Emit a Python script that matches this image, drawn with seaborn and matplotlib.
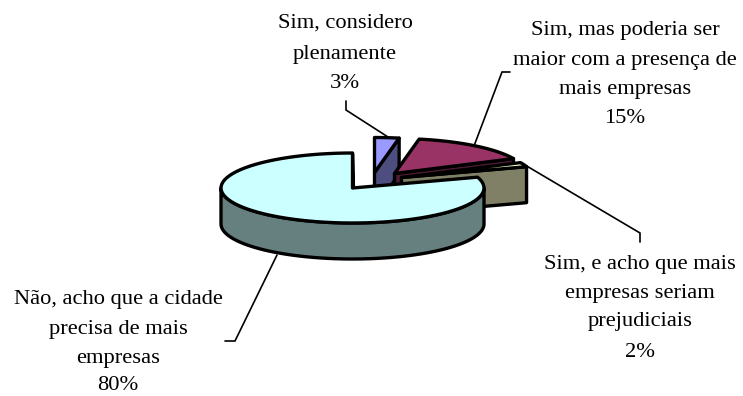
import numpy as np
import matplotlib
matplotlib.use("Agg")
import matplotlib.pyplot as plt
import seaborn as sns

categories = ["Sim, considero plenamente",
              "Sim, mas poderia ser maior com a presença de mais empresas",
              "Sim, e acho que mais empresas seriam prejudiciais",
              "Não, acho que a cidade precisa de mais empresas"]
shares = [3, 15, 2, 80]
top_colors = ["#9999FF", "#993366", "#FFFFCC", "#CCFFFF"]
side_colors = ["#4D4D80", "#4D1A33", "#808066", "#668080"]
label_lines = [["Sim, considero", "plenamente", "3%"],
               ["Sim, mas poderia ser", "maior com a presença de", "mais empresas", "15%"],
               ["Sim, e acho que mais", "empresas seriam", "prejudiciais", "2%"],
               ["Não, acho que a cidade", "precisa de mais", "empresas", "80%"]]
label_x = [345, 625, 640, 118]
label_y = [[21, 52, 81], [28, 58, 87, 116], [262, 291, 319, 350], [297, 327, 356, 383]]
leaders = [[(346, 101), (346, 110), (388, 137)],
           [(510, 72), (502, 72), (474, 146)],
           [(640, 242), (640, 233), (525, 165)],
           [(225, 341), (235, 341), (277, 255)]]
apexes = [(374.5, 172.5), (394.5, 173.5), (401.5, 177.5), (352.5, 188)]

RX, RY, DEPTH = 131.5, 35, 36
EDGE = 2.4

sns.set_theme(style="white")
plt.rcParams["font.family"] = ["Liberation Serif", "DejaVu Serif"]

fig = plt.figure(figsize=(7.43, 3.96), dpi=100)
ax = fig.add_axes([0, 0, 1, 1])
ax.set_xlim(0, 743)
ax.set_ylim(396, 0)
ax.axis("off")


def arc(apex, a0, a1, n=80):
    t = np.radians(np.linspace(a0, a1, n))
    return apex[0] + RX * np.sin(t), apex[1] - RY * np.cos(t)


def draw(xy, color, z):
    ax.fill(*zip(*xy), facecolor=color, edgecolor="black", linewidth=EDGE,
            joinstyle="round", zorder=z)


edges = np.concatenate([[0], np.cumsum(shares)]) * 3.6
for i, (apex, s, t) in enumerate(zip(apexes, side_colors, top_colors)):
    a0, a1 = edges[i], edges[i + 1]
    z = 2 + i * 2
    x, y = arc(apex, a0, a1)
    # radial end wall, extruded downward
    draw([apex, (x[-1], y[-1]), (x[-1], y[-1] + DEPTH), (apex[0], apex[1] + DEPTH)], s, z)
    # visible part of the outer wall
    lo, hi = max(a0, 90), min(a1, 270)
    if lo < hi:
        xo, yo = arc(apex, lo, hi)
        wall = list(zip(xo, yo)) + list(zip(xo[::-1], yo[::-1] + DEPTH))
        draw(wall, s, z)
    # top surface
    draw([apex] + list(zip(x, y)), t, z + 1)

for pts in leaders:
    ax.plot(*zip(*pts), color="black", lw=1.2, zorder=1, solid_joinstyle="miter")

for lines, lx, ys in zip(label_lines, label_x, label_y):
    for line, ly in zip(lines, ys):
        ax.text(lx, ly, line, ha="center", va="center_baseline", fontsize=16.2, color="black")

fig.savefig("out.png", dpi=100)
